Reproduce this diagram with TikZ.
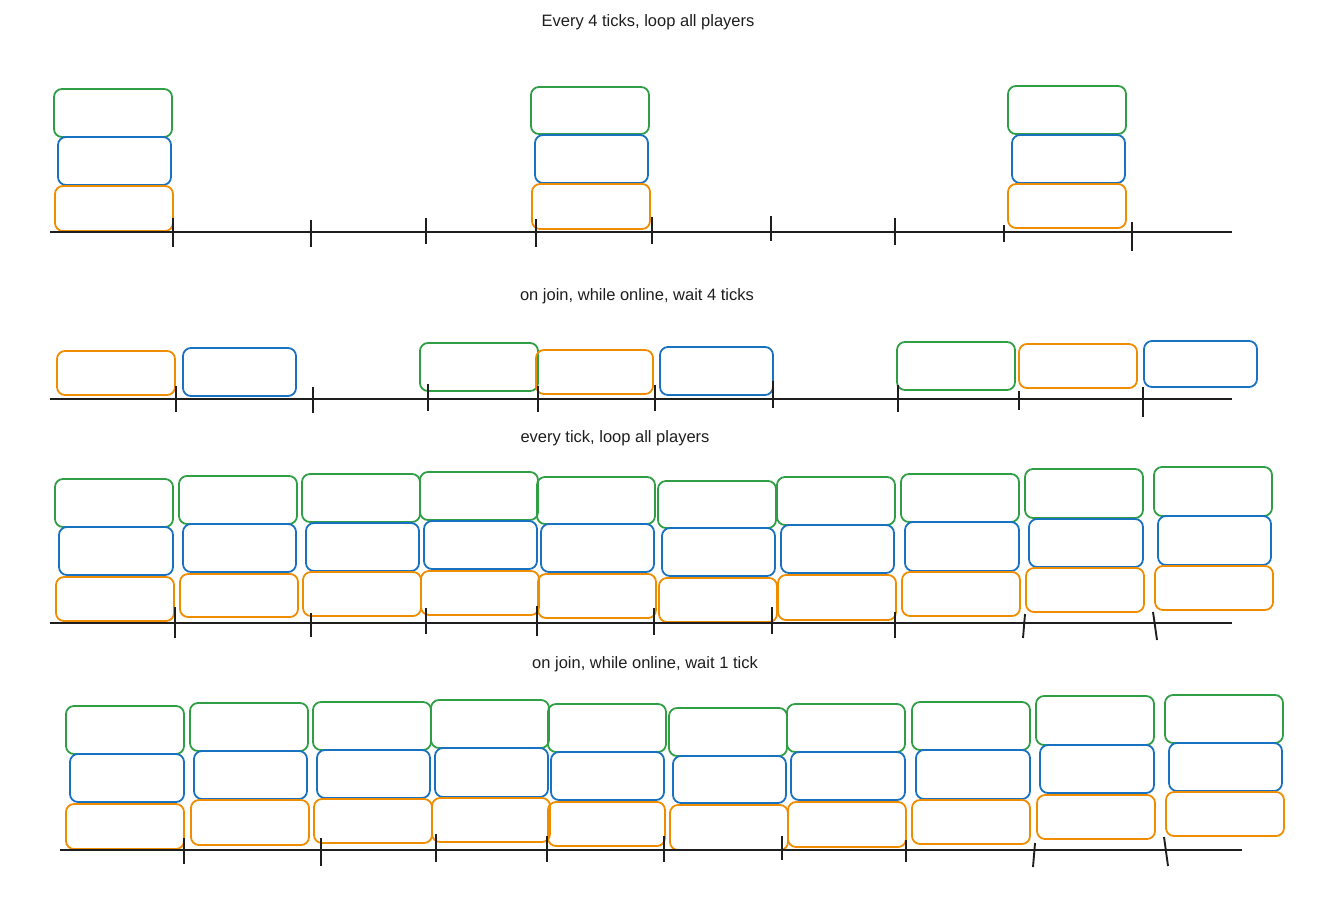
\documentclass[tikz,border=0pt]{standalone}
\usepackage{fontspec}
\setmainfont{Liberation Sans}
\definecolor{exgreen}{HTML}{2F9E44}
\definecolor{exblue}{HTML}{1971C2}
\definecolor{exorange}{HTML}{F08C00}
\definecolor{exink}{HTML}{1E1E1E}
\newcommand\pbx[6]{\node[pbox, draw=#2, minimum width={(#5-#3)*1pt}, minimum height={(#6-#4)*1pt}] (#1) at ({(#3+#5)/2},{(#4+#6)/2}) {};}
\begin{document}
\begin{tikzpicture}[x=1pt,y=-1pt,
 pbox/.style={rounded corners=8pt, line width=1.8pt, inner sep=0pt, outer sep=0pt},
 axisline/.style={draw=exink, line width=2.5pt},
 tickmark/.style={draw=exink, line width=1.9pt},
 title/.style={font=\fontsize{16.5}{19}\selectfont, text=exink, inner sep=0pt}]
\useasboundingbox (0,0) rectangle (1324,914);

% titles
\node[title] (t1) at (648,22) {Every 4 ticks, loop all players};
\node[title] (t2) at (637,296) {on join, while online, wait 4 ticks};
\node[title] (t3) at (615,438) {every tick, loop all players};
\node[title] (t4) at (645,664) {on join, while online, wait 1 tick};

% row 1
\foreach \n/\c/\a/\b/\e/\d in {
 aG1/exgreen/54/89/172/137, aB1/exblue/58/137/171/185, aO1/exorange/55/186/173/231,
 aG2/exgreen/531/87/649/134, aB2/exblue/535/135/648/183, aO2/exorange/532/184/650/229,
 aG3/exgreen/1008/86/1126/134, aB3/exblue/1012/135/1125/183, aO3/exorange/1008/184/1126/228}
 {\pbx{\n}{\c}{\a}{\b}{\e}{\d}}
\coordinate (a1s) at (50,232); \coordinate (a1e) at (1232,232);
\draw[axisline] (a1s) -- (a1e);
\foreach \x/\t/\u in {173/218/247, 311/220/247, 426/218/244, 536/219/247, 652/217/244, 771/216/241, 895/218/245, 1004/225/242, 1132/222/251}
 \draw[tickmark] (\x,\t) -- (\x,\u);

% row 2
\foreach \n/\c/\a/\b/\e/\d in {
 bO1/exorange/57/351/175/395, bB1/exblue/183/348/296/396, bG1/exgreen/420/343/538/391,
 bO2/exorange/536/350/653/394, bB2/exblue/660/347/773/395, bG2/exgreen/897/342/1015/390,
 bO3/exorange/1019/344/1137/388, bB3/exblue/1144/341/1257/387}
 {\pbx{\n}{\c}{\a}{\b}{\e}{\d}}
\coordinate (a2s) at (50,399); \coordinate (a2e) at (1232,399);
\draw[axisline] (a2s) -- (a2e);
\foreach \x/\t/\u in {176/386/412, 313/387/413, 428/384/411, 538/386/412, 655/385/411, 773/381/408, 898/385/412, 1019/391/410, 1143/387/417}
 \draw[tickmark] (\x,\t) -- (\x,\u);

% row 3
\foreach \n/\c/\a/\b/\e/\d in {
 cG1/exgreen/55/479/173/527, cB1/exblue/59/527/173/575, cO1/exorange/56/577/174/621,
 cG2/exgreen/179/476/297/524, cB2/exblue/183/524/296/572, cO2/exorange/180/574/298/617,
 cG3/exgreen/302/474/420/522, cB3/exblue/306/523/419/571, cO3/exorange/303/572/421/616,
 cG4/exgreen/420/472/538/520, cB4/exblue/424/521/537/569, cO4/exorange/421/571/539/615,
 cG5/exgreen/537/477/655/524, cB5/exblue/541/524/654/572, cO5/exorange/538/574/656/618,
 cG6/exgreen/658/481/776/528, cB6/exblue/662/528/775/576, cO6/exorange/659/578/777/622,
 cG7/exgreen/777/477/895/525, cB7/exblue/781/525/894/573, cO7/exorange/778/575/896/620,
 cG8/exgreen/901/474/1019/522, cB8/exblue/905/522/1019/571, cO8/exorange/902/572/1020/616,
 cG9/exgreen/1025/469/1143/518, cB9/exblue/1029/519/1143/567, cO9/exorange/1026/568/1144/612,
 cG10/exgreen/1154/467/1272/516, cB10/exblue/1158/516/1271/565, cO10/exorange/1155/566/1273/610}
 {\pbx{\n}{\c}{\a}{\b}{\e}{\d}}
\coordinate (a3s) at (50,623); \coordinate (a3e) at (1232,623);
\draw[axisline] (a3s) -- (a3e);
\foreach \x/\t/\u in {175/607/638, 311/613/637, 426/608/634, 537/606/636, 654/608/635, 772/607/634, 895/612/638}
 \draw[tickmark] (\x,\t) -- (\x,\u);
\draw[tickmark] (1025,614) -- (1023,638);
\draw[tickmark] (1153,612) -- (1157,640);

% row 4
\foreach \n/\c/\a/\b/\e/\d in {
 dG1/exgreen/66/706/184/754, dB1/exblue/70/754/184/802, dO1/exorange/66/804/184/849,
 dG2/exgreen/190/703/308/751, dB2/exblue/194/751/307/799, dO2/exorange/191/800/309/845,
 dG3/exgreen/313/702/431/750, dB3/exblue/317/750/430/798, dO3/exorange/314/799/432/843,
 dG4/exgreen/431/700/549/748, dB4/exblue/435/748/548/797, dO4/exorange/432/798/550/842,
 dG5/exgreen/548/704/666/752, dB5/exblue/551/752/664/800, dO5/exorange/548/802/665/846,
 dG6/exgreen/669/708/787/756, dB6/exblue/673/756/786/803, dO6/exorange/670/805/788/850,
 dG7/exgreen/787/704/905/752, dB7/exblue/791/752/905/800, dO7/exorange/788/802/906/847,
 dG8/exgreen/912/702/1030/750, dB8/exblue/916/750/1030/799, dO8/exorange/912/800/1030/844,
 dG9/exgreen/1036/696/1154/745, dB9/exblue/1040/745/1154/793, dO9/exorange/1037/795/1155/839,
 dG10/exgreen/1165/695/1283/743, dB10/exblue/1169/743/1282/791, dO10/exorange/1166/792/1284/836}
 {\pbx{\n}{\c}{\a}{\b}{\e}{\d}}
\coordinate (a4s) at (60,850); \coordinate (a4e) at (1242,850);
\draw[axisline] (a4s) -- (a4e);
\foreach \x/\t/\u in {184/838/864, 321/838/866, 436/834/862, 547/836/862, 664/836/862, 782/836/860, 906/840/862}
 \draw[tickmark] (\x,\t) -- (\x,\u);
\draw[tickmark] (1035,843) -- (1033,867);
\draw[tickmark] (1164,837) -- (1168,866);
\end{tikzpicture}
\end{document}
